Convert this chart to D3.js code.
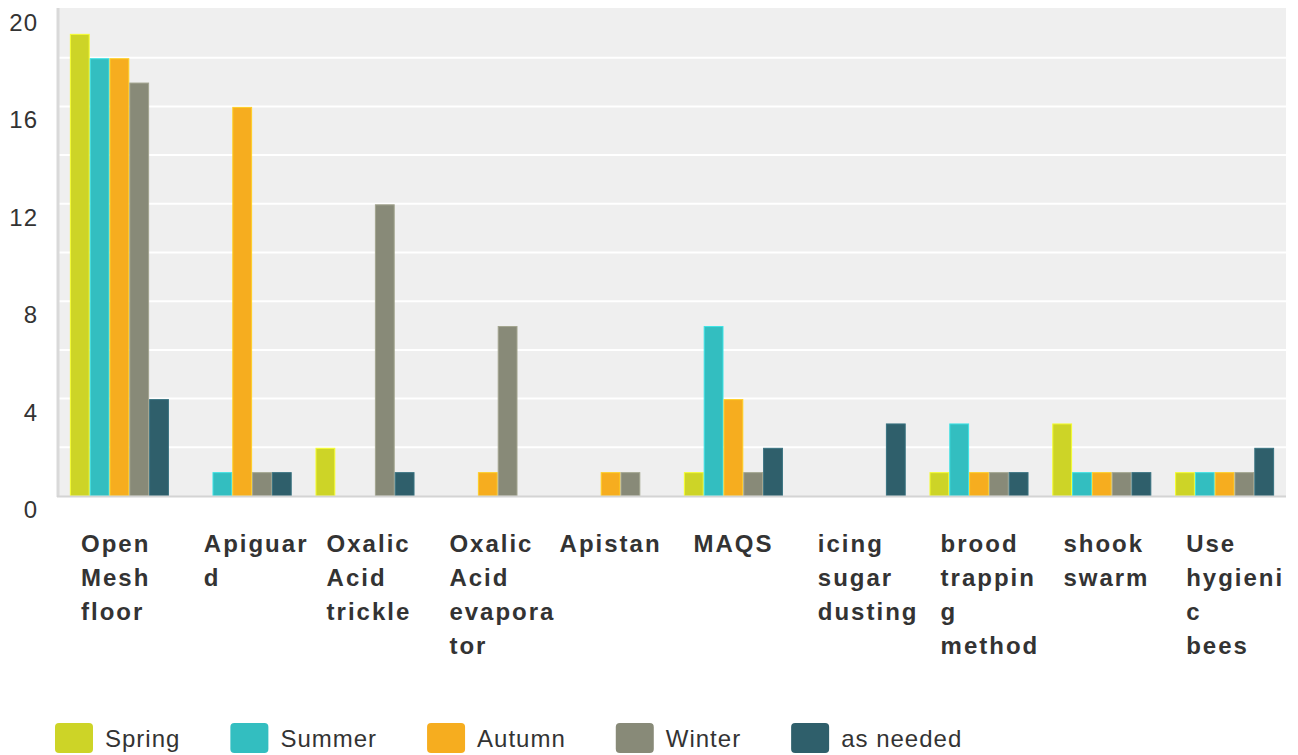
<!DOCTYPE html>
<html>
<head>
<meta charset="utf-8">
<script src="https://cdn.jsdelivr.net/npm/d3@7/dist/d3.min.js"></script>
<style>
  html, body { margin: 0; padding: 0; background: #fff; }
  svg { display: block; }
</style>
</head>
<body>
<svg id="chart" width="1298" height="755"></svg>
<script>
// ---- data ----
const categories = [
  "Open Mesh floor", "Apiguard", "Oxalic Acid trickle", "Oxalic Acid evaporator",
  "Apistan", "MAQS", "icing sugar dusting", "brood trapping method",
  "shook swarm", "Use hygienic bees"
];
const categoryLabelLines = [
  ["Open", "Mesh", "floor"],
  ["Apiguar", "d"],
  ["Oxalic", "Acid", "trickle"],
  ["Oxalic", "Acid", "evapora", "tor"],
  ["Apistan"],
  ["MAQS"],
  ["icing", "sugar", "dusting"],
  ["brood", "trappin", "g", "method"],
  ["shook", "swarm"],
  ["Use", "hygieni", "c", "bees"]
];
const seriesNames = ["Spring", "Summer", "Autumn", "Winter", "as needed"];
const seriesColors = ["#cdd427", "#33bec0", "#f6ad1f", "#888a78", "#2f5f6b"];
const spring   = [19, 0, 2, 0, 0, 1, 0, 1, 3, 1];
const summer   = [18, 1, 0, 0, 0, 7, 0, 3, 1, 1];
const autumn   = [18, 16, 0, 1, 1, 4, 0, 1, 1, 1];
const winter   = [17, 1, 12, 7, 1, 1, 0, 1, 1, 1];
const asNeeded = [4, 1, 1, 0, 0, 2, 3, 1, 1, 2];
const yTicks = [0, 4, 8, 12, 16, 20];
const yGrid = [2, 4, 6, 8, 10, 12, 14, 16, 18];

const seriesValues = [spring, summer, autumn, winter, asNeeded];

// ---- layout ----
const svg = d3.select("#chart");
const plot = { left: 58, right: 1286, top: 8, bottom: 496 };

const x0 = d3.scaleBand().domain(d3.range(categories.length))
  .range([plot.left, plot.right]).padding(0);
const x1 = d3.scaleBand().domain(d3.range(seriesNames.length))
  .range([0, x0.bandwidth()]).paddingInner(0).paddingOuter(0.6);
const y = d3.scaleLinear().domain([0, 20]).range([497, 10]);

// background
svg.append("rect")
  .attr("x", plot.left).attr("y", plot.top)
  .attr("width", plot.right - plot.left).attr("height", plot.bottom - plot.top)
  .attr("fill", "#efefef");

// gridlines
svg.append("g").selectAll("line").data(yGrid).join("line")
  .attr("x1", plot.left).attr("x2", plot.right)
  .attr("y1", d => y(d) - 1).attr("y2", d => y(d) - 1)
  .attr("stroke", "#ffffff").attr("stroke-width", 2);

// bars
const groups = svg.append("g").selectAll("g").data(categories).join("g")
  .attr("transform", (d, i) => `translate(${x0(i)},0)`);
groups.selectAll("rect")
  .data((d, i) => seriesValues.map((s, k) => ({ k, v: s[i] })).filter(o => o.v > 0))
  .join("rect")
  .attr("x", d => x1(d.k) + 0.5)
  .attr("width", x1.bandwidth() - 1)
  .attr("y", d => y(d.v))
  .attr("height", d => plot.bottom - y(d.v))
  .attr("fill", d => seriesColors[d.k])
  .attr("stroke", d => d3.color(seriesColors[d.k]).brighter(0.5))
  .attr("stroke-width", 1);

// axis lines
svg.append("line")
  .attr("x1", plot.left).attr("x2", plot.left)
  .attr("y1", plot.top).attr("y2", plot.bottom + 1)
  .attr("stroke", "#d9d9d9").attr("stroke-width", 3);
svg.append("line")
  .attr("x1", plot.left - 1).attr("x2", plot.right)
  .attr("y1", plot.bottom + 0.5).attr("y2", plot.bottom + 0.5)
  .attr("stroke", "#d4d4d4").attr("stroke-width", 2);

// y tick labels
svg.append("g").selectAll("text").data(yTicks).join("text")
  .attr("x", 38).attr("y", d => y(d) + 21)
  .attr("text-anchor", "end")
  .attr("font-family", "'Liberation Sans', Arial, sans-serif")
  .attr("font-size", 24)
  .attr("letter-spacing", 1)
  .attr("fill", "#333")
  .text(d => d);

// category labels
const catG = svg.append("g")
  .attr("font-family", "'Liberation Sans', Arial, sans-serif")
  .attr("font-size", 24)
  .attr("font-weight", "bold")
  .attr("letter-spacing", 2)
  .attr("fill", "#333");
categoryLabelLines.forEach((lines, i) => {
  const center = x0(i) + x0.bandwidth() / 2;
  const single = lines.length === 1;
  const t = catG.append("text")
    .attr("text-anchor", single ? "middle" : "start");
  lines.forEach((ln, j) => {
    t.append("tspan")
      .attr("x", single ? center : x0(i) + 23)
      .attr("y", 552 + j * 34)
      .text(ln);
  });
});

// legend
const legG = svg.append("g")
  .attr("font-family", "'Liberation Sans', Arial, sans-serif")
  .attr("font-size", 24)
  .attr("letter-spacing", 1)
  .attr("fill", "#333");
let lx = 55;
seriesNames.forEach((name, k) => {
  legG.append("rect")
    .attr("x", lx).attr("y", 723).attr("width", 38).attr("height", 30)
    .attr("rx", 4).attr("fill", seriesColors[k]);
  const t = legG.append("text").attr("x", lx + 50).attr("y", 747).text(name);
  const w = t.node().getComputedTextLength();
  lx = lx + 50 + w + 50;
});
</script>
</body>
</html>
